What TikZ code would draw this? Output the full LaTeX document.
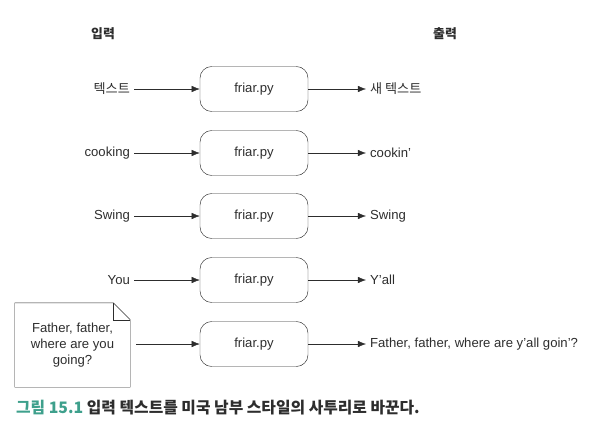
\documentclass[tikz,border=0pt]{standalone}
\usepackage{fontspec}
\setmainfont{Liberation Sans}
\newfontfamily\kr{Noto Sans CJK KR}
\usetikzlibrary{arrows,arrows.meta,positioning,calc}
\definecolor{ink}{RGB}{45,45,45}
\definecolor{capteal}{RGB}{62,160,140}

\begin{document}
\begin{tikzpicture}[x=0.03cm,y=-0.03cm,font=\fontsize{11.2}{13.4}\selectfont,
  every node/.style={text=ink},
  prog/.style={draw=ink,thin,rounded corners=10pt,minimum width=3.24cm,minimum height=1.35cm},
  flow/.style={-{Latex[length=7pt,width=5.5pt]},draw=ink,thin}]

\useasboundingbox (0,0) rectangle (593,424);

\node[font=\kr\bfseries\fontsize{11}{13}\selectfont] (hin) at (103,34) {입력};
\node[font=\kr\bfseries\fontsize{11}{13}\selectfont] (hout) at (445,34) {출력};

% program boxes
\node[prog] (p1) at (254,89) {friar.py};
\node[prog] (p2) at (254,153) {friar.py};
\node[prog] (p3) at (254,216) {friar.py};
\node[prog] (p4) at (254,280) {friar.py};
\node[prog] (p5) at (254,344) {friar.py};

% inputs
\node[anchor=east] (in1) at (134,89) {\kr 텍스트};
\node[anchor=east] (in2) at (134,153) {cooking};
\node[anchor=east] (in3) at (134,216) {Swing};
\node[anchor=east] (in4) at (134,280) {You};
\node[align=center,minimum width=3.45cm,minimum height=2.52cm] (in5) at (72.5,345) {Father, father,\\where are you\\going?};
\draw[ink,thin] (in5.south west) -- (in5.north west) -- ($(in5.north east)+(-17,0)$) -- ($(in5.north east)+(0,17)$) -- (in5.south east) -- cycle;
\draw[ink,thin] ($(in5.north east)+(-17,0)$) -- ($(in5.north east)+(-17,17)$) -- ($(in5.north east)+(0,17)$);

% outputs
\node[anchor=west] (out1) at (366,89) {\kr 새 텍스트};
\node[anchor=west] (out2) at (366,153) {cookin'};
\node[anchor=west] (out3) at (366,216) {Swing};
\node[anchor=west] (out4) at (366,280) {Y'all};
\node[anchor=west] (out5) at (366,344) {Father, father, where are y'all goin'?};

\foreach \i in {1,...,4}{
  \draw[flow] (in\i) -- (p\i);
}
\draw[flow] (in5.east |- p5) ++(6,0) -- (p5);
\foreach \i in {1,...,5}{
  \draw[flow] (p\i) -- (out\i);
}

\node[anchor=west,font=\kr\bfseries\fontsize{13.5}{16}\selectfont] (cap) at (12,408) {\textcolor{capteal}{그림 15.1}\ 입력 텍스트를 미국 남부 스타일의 사투리로 바꾼다.};

\end{tikzpicture}
\end{document}
